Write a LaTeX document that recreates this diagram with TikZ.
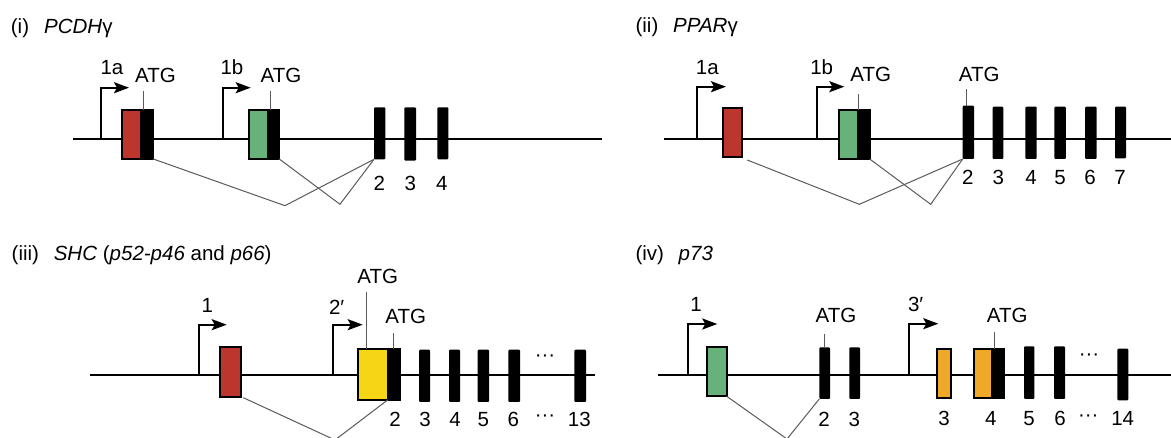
\documentclass[tikz,border=0pt]{standalone}
\usepackage{fontspec}
\setmainfont{Liberation Sans}
\usetikzlibrary{arrows.meta}
\definecolor{exred}{RGB}{188,54,46}
\definecolor{exgreen}{RGB}{102,178,122}
\definecolor{exyellow}{RGB}{246,213,22}
\definecolor{exorange}{RGB}{239,168,40}
\definecolor{splicegray}{RGB}{90,90,90}
\begin{document}
\begin{tikzpicture}[x=1pt,y=-1pt,
  txt/.style={font=\fontsize{20.5}{24}\selectfont, inner sep=0pt, anchor=base},
  ttl/.style={txt, anchor=base west},
  gene/.style={line width=2pt},
  cbox/.style={draw=black, line width=2pt, inner sep=0pt, outer sep=0pt, fill=#1},
  kbox/.style={cbox=black},
  exon/.style={fill=black, inner sep=0pt, outer sep=0pt, rounded corners=1pt},
  sz/.style 2 args={minimum width=#1pt, minimum height=#2pt},
  tss/.style={line width=2pt, -{Stealth[length=15pt,width=11pt,inset=3pt]}},
  splice/.style={draw=splicegray, line width=1pt},
  tick/.style={draw=splicegray, line width=1pt},
]
\useasboundingbox (0,0) rectangle (1171,438);

% ================= (i) PCDH gamma =================
\node[ttl] (t1a) at (10.7,33.3) {(i)};
\node[ttl] (t1b) at (44,33.3) {\textit{PCDH}γ};
\coordinate (g1L) at (73,139);
\coordinate (g1R) at (602,139);
\draw[gene] (g1L) -- (g1R);
\coordinate (p1a) at (100.7,139); \coordinate (p1aE) at (129,87.7);
\coordinate (p1b) at (222.7,139); \coordinate (p1bE) at (250.7,87.7);
\draw[tss] (p1a) |- (p1aE);
\draw[tss] (p1b) |- (p1bE);
\node[txt] (l1a) at (112,75) {1a};
\node[txt] (l1b) at (232,75) {1b};
\node[cbox=exred, sz={19.6}{49}] (i-r) at (131.5,134.5) {};
\node[kbox, sz={10}{49}] (i-k1) at (148.3,134.5) {};
\node[cbox=exgreen, sz={19.3}{49}] (i-g) at (258.35,134.5) {};
\node[kbox, sz={9.3}{49}] (i-k2) at (274.65,134.5) {};
\node[exon, sz={11.3}{52}] (i-e2) at (379.65,133.3) {};
\node[exon, sz={11.7}{53.4}] (i-e3) at (410.15,134) {};
\node[exon, sz={11}{52}] (i-e4) at (442.8,133.3) {};
\node[txt] (i-atg1) at (155.5,82.7) {ATG};
\node[txt] (i-atg2) at (281,82.7) {ATG};
\draw[tick] (i-k1.north west) -- ++(0,-19);
\draw[tick] (i-k2.north west) -- ++(0,-19);
\node[txt] at (379.3,190.7) {2};
\node[txt] at (410.3,190.7) {3};
\node[txt] at (441.7,190.7) {4};
\coordinate (i-v1) at (285,205.7);
\coordinate (i-v2) at (340,204.3);
\draw[splice] (i-k1.south east) -- (i-v1) -- (i-e2.south west);
\draw[splice] (i-k2.south east) -- (i-v2) -- (i-e2.south west);

% ================= (ii) PPAR gamma =================
\node[ttl] (t2a) at (635.4,33) {(ii)};
\node[ttl] (t2b) at (673,33) {\textit{PPAR}γ};
\coordinate (g2L) at (664,139.3);
\coordinate (g2R) at (1171,139.3);
\draw[gene] (g2L) -- (g2R);
\coordinate (p2a) at (697.3,139.3); \coordinate (p2aE) at (726,86.7);
\coordinate (p2b) at (816.7,139.3); \coordinate (p2bE) at (844.3,86.7);
\draw[tss] (p2a) |- (p2aE);
\draw[tss] (p2b) |- (p2bE);
\node[txt] (l2a) at (707.3,74.3) {1a};
\node[txt] (l2b) at (821.7,74.3) {1b};
\node[cbox=exred, sz={19.6}{49}] (ii-r) at (732.5,132.8) {};
\node[cbox=exgreen, sz={19}{49}] (ii-g) at (848.5,134.5) {};
\node[kbox, sz={9.7}{49}] (ii-k) at (864.85,134.5) {};
\node[exon, sz={11.3}{53.3}] (ii-e2) at (968.35,132.35) {};
\node[exon, sz={10.8}{52.3}] (ii-e3) at (998,132.85) {};
\node[exon, sz={11.4}{52.3}] (ii-e4) at (1031,132.85) {};
\node[exon, sz={11.5}{52.3}] (ii-e5) at (1060.15,132.85) {};
\node[exon, sz={11.5}{52.3}] (ii-e6) at (1090.85,132.85) {};
\node[exon, sz={11}{51.6}] (ii-e7) at (1120.5,132.5) {};
\node[txt] (ii-atg1) at (870.7,81.7) {ATG};
\node[txt] (ii-atg2) at (979.3,81.7) {ATG};
\draw[tick] (ii-g.north east) -- ++(0,-16);
\draw[tick] ([xshift=3.3pt]ii-e2.north west) -- ++(0,-16.4);
\node[txt] at (967.7,185) {2};
\node[txt] at (998.3,185) {3};
\node[txt] at (1031,185) {4};
\node[txt] at (1060,185) {5};
\node[txt] at (1090,185) {6};
\node[txt] at (1120,185) {7};
\coordinate (ii-v1) at (859.3,204.3);
\coordinate (ii-v2) at (930.7,204.3);
\draw[splice] ([shift={(5,2.7)}]ii-r.south east) -- (ii-v1) -- (ii-e2.south west);
\draw[splice] (ii-k.south east) -- (ii-v2) -- (ii-e2.south west);

% ================= (iii) SHC =================
\node[ttl] (t3a) at (11.5,260.5) {(iii)};
\node[ttl] (t3b) at (53.6,260.5) {\textit{SHC} (\textit{p52-p46} and \textit{p66})};
\coordinate (g3L) at (90,375.3);
\coordinate (g3R) at (595,375.3);
\draw[gene] (g3L) -- (g3R);
\coordinate (p3a) at (199,375.3); \coordinate (p3aE) at (226.7,324.7);
\coordinate (p3b) at (333.3,375.3); \coordinate (p3bE) at (362.7,324.7);
\draw[tss] (p3a) |- (p3aE);
\draw[tss] (p3b) |- (p3bE);
\node[txt] (l3a) at (207.3,312.3) {1};
\node[txt] (l3b) at (336.7,314.7) {2′};
\node[cbox=exred, sz={20.7}{49.7}] (iii-r) at (230.35,372.15) {};
\node[cbox=exyellow, sz={30.3}{50.4}] (iii-y) at (372.85,374.5) {};
\node[kbox, sz={10}{50.4}] (iii-k) at (395,374.5) {};
\node[exon, sz={10.9}{52.3}] (iii-e3) at (424.65,375.85) {};
\node[exon, sz={11}{52.3}] (iii-e4) at (454.5,375.85) {};
\node[exon, sz={11.3}{52.3}] (iii-e5) at (483.35,375.85) {};
\node[exon, sz={11.7}{52.3}] (iii-e6) at (514.15,375.85) {};
\node[exon, sz={11.7}{52.3}] (iii-e13) at (580.15,375.85) {};
\node[txt] (iii-atg1) at (377.7,284) {ATG};
\node[txt] (iii-atg2) at (405.7,324) {ATG};
\draw[tick] ([xshift=9pt]iii-y.north west) -- ++(0,-57);
\draw[tick] ([xshift=3.3pt]iii-k.north west) -- ++(0,-16);
\node[txt] (iii-dots) at (545,362) {···};
\node[txt] at (395,426.3) {2};
\node[txt] at (425,426.3) {3};
\node[txt] at (455,426.3) {4};
\node[txt] at (483.3,426.3) {5};
\node[txt] at (513.3,426.3) {6};
\node[txt] at (545,422) {···};
\node[txt] at (579.3,426.3) {13};
\coordinate (iii-v) at (335,440);
\draw[splice] ([shift={(2.6,0.7)}]iii-r.south east) -- (iii-v) -- (iii-y.south east);

% ================= (iv) p73 =================
\node[ttl] (t4a) at (635.4,261) {(iv)};
\node[ttl] (t4b) at (678.5,261) {\textit{p73}};
\coordinate (g4L) at (658.3,375.3);
\coordinate (g4R) at (1171,375.3);
\draw[gene] (g4L) -- (g4R);
\coordinate (p4a) at (688.3,375.3); \coordinate (p4aE) at (717.3,324);
\coordinate (p4b) at (909.3,375.3); \coordinate (p4bE) at (938.3,323.7);
\draw[tss] (p4a) |- (p4aE);
\draw[tss] (p4b) |- (p4bE);
\node[txt] (l4a) at (696,311.3) {1};
\node[txt] (l4b) at (915.7,311.3) {3′};
\node[cbox=exgreen, sz={20}{49.6}] (iv-g) at (716.7,371.5) {};
\node[exon, sz={10.7}{51.7}] (iv-e2) at (824.65,373.15) {};
\node[exon, sz={10.7}{51.7}] (iv-e3) at (854.65,373.15) {};
\node[cbox=exorange, sz={14}{49}] (iv-o1) at (943.7,373.5) {};
\node[cbox=exorange, sz={18}{49}] (iv-o2) at (983.3,373.5) {};
\node[kbox, sz={9.7}{49}] (iv-k) at (999.15,373.5) {};
\node[exon, sz={10.3}{52.7}] (iv-e5) at (1029.15,372.65) {};
\node[exon, sz={11}{52.7}] (iv-e6) at (1059.5,372.65) {};
\node[exon, sz={11}{51.6}] (iv-e14) at (1122.8,374.5) {};
\node[txt] (iv-atg1) at (836,323) {ATG};
\node[txt] (iv-atg2) at (1007.3,323) {ATG};
\draw[tick] (iv-e2.north) -- ++(0,-13.3);
\draw[tick] (iv-k.north west) -- ++(0,-17);
\node[txt] (iv-dots) at (1089,361) {···};
\node[txt] at (824,426.3) {2};
\node[txt] at (854.3,426.3) {3};
\node[txt] at (944,425.3) {3};
\node[txt] at (990.7,425.3) {4};
\node[txt] at (1029,425.3) {5};
\node[txt] at (1060,425.3) {6};
\node[txt] at (1088.3,421) {···};
\node[txt] at (1122.7,425.3) {14};
\coordinate (iv-v) at (787,439);
\draw[splice] (iv-g.south east) -- (iv-v) -- (iv-e2.south west);
\end{tikzpicture}
\end{document}
